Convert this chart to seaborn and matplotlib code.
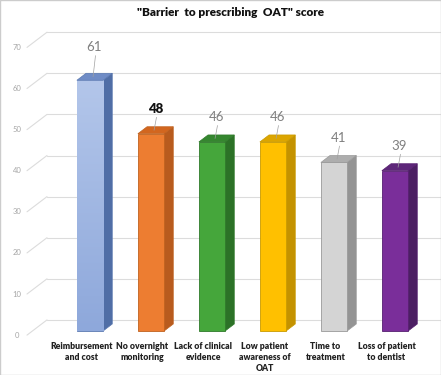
import numpy as np
import pandas as pd
import matplotlib
matplotlib.use('Agg')
import matplotlib.pyplot as plt
from matplotlib.patches import Polygon, Rectangle
from matplotlib.colors import LinearSegmentedColormap
import seaborn as sns

# data
categories = ['Reimbursement\nand cost', 'No overnight\nmonitoring', 'Lack of clinical\nevidence',
              'Low patient\nawareness of\nOAT', 'Time to\ntreatment', 'Loss of patient\nto dentist']
scores = [61, 48, 46, 46, 41, 39]
yticks = [0, 10, 20, 30, 40, 50, 60, 70]

front_colors = ['#a3b9e3', '#ed7d31', '#45a63b', '#ffc000', '#d4d4d4', '#7a2e9a']
side_colors = ['#506ea6', '#b85b1e', '#2c7227', '#c49200', '#949494', '#4c1f63']
top_colors = ['#6f8cc6', '#d2661f', '#35862f', '#dca500', '#adadad', '#5d2679']
edge_colors = ['#5a78b0', '#c0621f', '#2f7a2a', '#c99a00', '#9a9a9a', '#561f70']

sns.set_theme(style='white')
plt.rcParams['font.family'] = ['Lato', 'DejaVu Sans']

fig = plt.figure(figsize=(4.41, 3.75), dpi=100)
ax = fig.add_axes([0, 0, 1, 1])

df = pd.DataFrame({'cat': categories, 'score': scores})
sns.barplot(data=df, x='cat', y='score', hue='cat', palette=front_colors,
            width=0.43, legend=False, ax=ax, zorder=3, saturation=1)

# pixel-like mapping: bar i centred at 90+61*i px, value v at 331-4.11*v px
xlim = (-90 / 61, (441 - 90) / 61)
ylim = ((331 - 375) / 4.11, 331 / 4.11)
ax.axis('off')

dx, dy = 0.15, 1.7  # depth of the 3d look
grid_c = '#dcdcdc'
x_front, x_back = (27 - 90) / 61, (47 - 90) / 61
front_off, back_off = -1.0, 2.7

# back wall gridlines and floor diagonals
for t in yticks:
    ax.plot([x_back, 6.0], [t + back_off, t + back_off], color=grid_c, lw=0.8, zorder=1)
    ax.plot([x_front, x_back], [t + front_off, t + back_off], color=grid_c, lw=0.8, zorder=1)
    ax.text((17 - 90) / 61, t + front_off, str(t), ha='center', va='center',
            fontsize=5.5, color='#a6a6a6')

# 3d faces for each bar
bars = sorted(ax.patches, key=lambda p: p.get_x())
for i, (bar, v) in enumerate(zip(bars, scores)):
    x0 = bar.get_x()
    w = bar.get_width()
    x1 = x0 + w
    bar.set_edgecolor(edge_colors[i])
    bar.set_linewidth(0.6)
    side = Polygon([(x1, 0), (x1 + dx, dy), (x1 + dx, v + dy), (x1, v)], closed=True,
                   facecolor=side_colors[i], edgecolor=edge_colors[i], lw=0.5, zorder=2)
    top = Polygon([(x0, v), (x1, v), (x1 + dx, v + dy), (x0 + dx, v + dy)], closed=True,
                  facecolor=top_colors[i], edgecolor=edge_colors[i], lw=0.5, zorder=4)
    ax.add_patch(side)
    ax.add_patch(top)
    if i == 0:
        # gradient fill on the first bar
        cmap = LinearSegmentedColormap.from_list('blu', ['#8ea8db', '#b3c6ea'])
        grad = np.linspace(0, 1, 100).reshape(-1, 1)
        im = ax.imshow(grad, extent=[x0, x1, 0, v], origin='lower', cmap=cmap,
                       aspect='auto', zorder=3.5)
        im.set_clip_path(bar)

    # value label with leader line
    lx = x0 + w / 2 + 0.07
    ly = v + (8.0 if i == 0 else 6.0)
    bold = i == 1
    ax.text(lx, ly, str(v), ha='center', va='center', fontsize=9.5,
            color='#111111' if bold else '#7f7f7f', fontweight='heavy' if bold else 'normal',
            zorder=5)
    ax.plot([lx + 0.02, x0 + w / 2 + 0.05], [ly - 2.0, v + dy * 0.5], color='#a0a0a0',
            lw=0.5, zorder=5)

    # category label
    ax.text(x0 + w / 2 - 0.14, -2.6, categories[i], ha='center', va='top', fontsize=6.2,
            fontweight='heavy', color='#222222', linespacing=1.3)

ax.set_xlim(*xlim)
ax.set_ylim(*ylim)

fig.text(0.522, 0.968, '"Barrier  to prescribing  OAT" score', ha='center', va='center',
         fontsize=8.5, fontweight='heavy', color='#111111')
fig.patches.append(Rectangle((0, 0), 1, 1, transform=fig.transFigure, fill=False,
                             edgecolor='#cccccc', lw=1.0))

fig.savefig('out.png', dpi=100)
